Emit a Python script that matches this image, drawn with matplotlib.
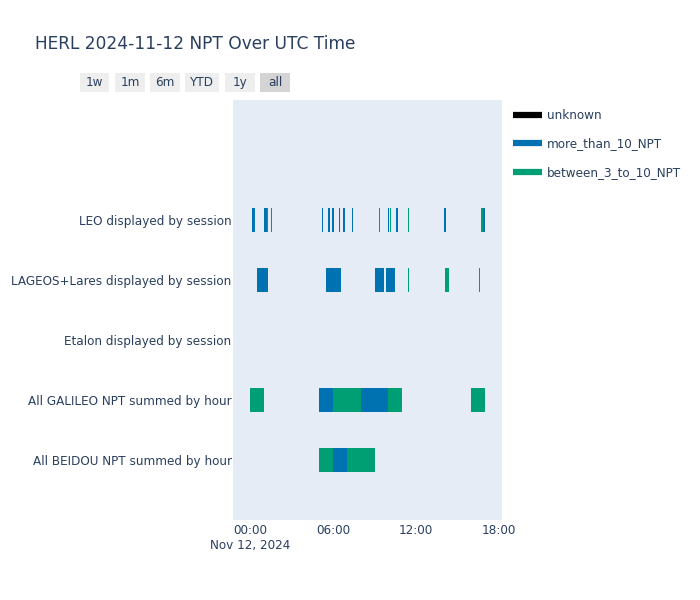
import datetime as dt
import matplotlib
matplotlib.use('Agg')
import matplotlib.pyplot as plt
import matplotlib.dates as mdates
from matplotlib.lines import Line2D
from matplotlib.patches import FancyBboxPatch

plt.rcParams['font.family'] = ['DejaVu Sans']

# lanes, bottom to top
rows = ['All BEIDOU NPT summed by hour', 'All GALILEO NPT summed by hour',
        'Etalon displayed by session', 'LAGEOS+Lares displayed by session',
        'LEO displayed by session']

statuses = ['unknown', 'more_than_10_NPT', 'between_3_to_10_NPT']
colors = {'unknown': '#000000', 'more_than_10_NPT': '#0072B2',
          'between_3_to_10_NPT': '#009E73'}

# sessions: lane, start, end, status
lane = (['LEO displayed by session'] * 20
        + ['LAGEOS+Lares displayed by session'] * 7
        + ['All GALILEO NPT summed by hour'] * 6
        + ['All BEIDOU NPT summed by hour'] * 3)
start = ['00:10', '01:01', '01:06', '01:11', '01:15', '01:30', '05:10', '05:39',
         '05:56', '06:26', '06:43', '07:22', '09:20', '09:57', '10:06', '10:34',
         '11:25', '14:00', '16:42', '16:50',
         '00:32', '05:30', '09:04', '09:50', '11:27', '14:07', '16:34',
         '00:00', '05:00', '06:00', '08:00', '10:00', '16:00',
         '05:00', '06:00', '07:00']
end = ['00:20', '01:04', '01:09', '01:14', '01:17', '01:34', '05:15', '05:45',
       '06:02', '06:30', '06:51', '07:27', '09:24', '10:02', '10:10', '10:42',
       '11:29', '14:12', '16:50', '17:00',
       '01:17', '06:33', '09:43', '10:29', '11:30', '14:23', '16:37',
       '01:00', '06:00', '08:00', '10:00', '11:00', '17:00',
       '06:00', '07:00', '09:00']
status = (['more_than_10_NPT'] * 4 + ['between_3_to_10_NPT'] * 2
          + ['more_than_10_NPT'] * 6
          + ['between_3_to_10_NPT', 'more_than_10_NPT', 'between_3_to_10_NPT',
             'more_than_10_NPT', 'between_3_to_10_NPT', 'more_than_10_NPT',
             'between_3_to_10_NPT', 'more_than_10_NPT']
          + ['more_than_10_NPT'] * 4 + ['between_3_to_10_NPT'] * 3
          + ['between_3_to_10_NPT', 'more_than_10_NPT', 'between_3_to_10_NPT',
             'more_than_10_NPT', 'between_3_to_10_NPT', 'between_3_to_10_NPT']
          + ['between_3_to_10_NPT', 'more_than_10_NPT', 'between_3_to_10_NPT'])

day = dt.datetime(2024, 11, 12)


def to_num(s):
    h, m = map(int, s.split(':'))
    return mdates.date2num(day + dt.timedelta(hours=h, minutes=m))


txt = '#2a3f5f'
fig = plt.figure(figsize=(7, 6), dpi=100)
ax = fig.add_axes([233 / 700, 80 / 600, 269 / 700, 420 / 600])
ax.set_facecolor('#E5ECF6')

for ln, s, e, st in zip(lane, start, end, status):
    x0 = to_num(s)
    ax.barh(rows.index(ln), to_num(e) - x0, left=x0, height=0.4,
            color=colors[st], linewidth=0)

ax.set_ylim(-1, 6)
ax.set_yticks(range(len(rows)))
ax.set_yticklabels(rows)
ax.set_xlim(mdates.date2num(day - dt.timedelta(minutes=74)),
            mdates.date2num(day + dt.timedelta(hours=18, minutes=13)))
ticks = [day + dt.timedelta(hours=h) for h in (0, 6, 12, 18)]
ax.set_xticks(mdates.date2num(ticks))
ax.set_xticklabels(['00:00\nNov 12, 2024', '06:00', '12:00', '18:00'])
for lab in ax.get_xticklabels():
    lab.set_horizontalalignment('center')
ax.tick_params(length=0, labelsize=8.64, colors=txt)
ax.tick_params(axis='y', pad=1)
ax.tick_params(axis='x', pad=3)
for sp in ax.spines.values():
    sp.set_visible(False)

fig.text(35 / 700, 1 - 44 / 600, 'HERL 2024-11-12 NPT Over UTC Time',
         fontsize=12.24, color=txt, va='center')

# range selector buttons
buttons = ['1w', '1m', '6m', 'YTD', '1y', 'all']
bx = [80, 115, 150, 185, 225, 260]
bw = [29, 30, 30, 34, 30, 30]
for b, x, w in zip(buttons, bx, bw):
    fc = '#d4d4d4' if b == 'all' else '#eeeeee'
    fig.patches.append(FancyBboxPatch((x / 700, 1 - 92 / 600), w / 700, 19 / 600,
                                      boxstyle='square,pad=0', fc=fc, ec='none',
                                      transform=fig.transFigure))
    fig.text((x + w / 2) / 700, 1 - 82.5 / 600, b, fontsize=8.64, color=txt,
             ha='center', va='center')

handles = [Line2D([0], [0], color=colors[s], lw=4.5, solid_capstyle='butt')
           for s in statuses]
fig.legend(handles, statuses, loc='upper left', bbox_to_anchor=(502 / 700, 1 - 98 / 600),
           frameon=False, fontsize=8.64, labelcolor=txt, handlelength=2.4,
           handletextpad=0.45, labelspacing=1.3)

fig.savefig('out.png', dpi=100)
